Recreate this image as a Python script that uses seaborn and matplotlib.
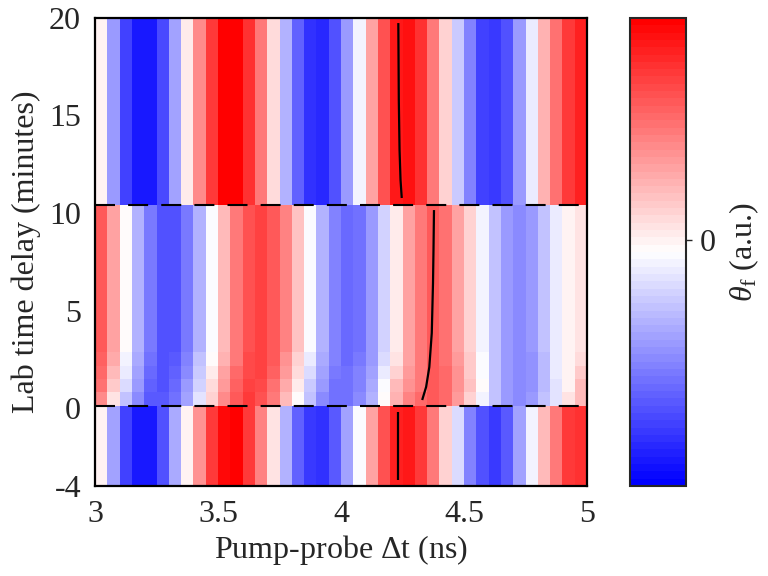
import numpy as np
import pandas as pd
import matplotlib
matplotlib.use("Agg")
import matplotlib.pyplot as plt
import seaborn as sns
from matplotlib.colors import LinearSegmentedColormap

# Pump-probe delay bins (ns): 40 bins from 3 to 5 ns
dt_start, dt_stop, n_dt = 3.0, 5.0, 40
# Lab-time scans (minutes): 35 scans from -4 to 20 min
lab_start, lab_stop, n_scans = -4.0, 20.0, 35

# Faraday rotation theta_f per delay bin (a.u.), one profile per lab-time block
theta_before = [0.0, -0.42, -0.78, -0.95, -0.93, -0.72, -0.38, 0.0, 0.38, 0.72,
                0.9, 0.92, 0.72, 0.42, 0.05, -0.35, -0.65, -0.82, -0.85, -0.7,
                -0.42, -0.08, 0.3, 0.62, 0.82, 0.85, 0.72, 0.45, 0.12, -0.2,
                -0.52, -0.72, -0.82, -0.7, -0.42, -0.1, 0.22, 0.48, 0.7, 0.75]
theta_during_scan1 = [0.4, 0.05, -0.28, -0.5, -0.7, -0.68, -0.6, -0.42, -0.15, 0.12,
                      0.4, 0.6, 0.7, 0.62, 0.45, 0.22, -0.05, -0.3, -0.5, -0.6,
                      -0.6, -0.5, -0.35, -0.05, 0.25, 0.42, 0.52, 0.6, 0.52, 0.35,
                      0.12, -0.1, -0.3, -0.45, -0.5, -0.45, -0.3, -0.15, 0.05, 0.22]
theta_during_scan2 = [0.5, 0.15, -0.18, -0.45, -0.65, -0.72, -0.62, -0.45, -0.22, 0.08,
                      0.35, 0.55, 0.68, 0.65, 0.5, 0.28, 0.02, -0.25, -0.45, -0.6,
                      -0.6, -0.52, -0.38, -0.08, 0.2, 0.38, 0.48, 0.6, 0.52, 0.38,
                      0.18, -0.05, -0.28, -0.45, -0.5, -0.48, -0.32, -0.15, 0.0, 0.2]
theta_during_scan3 = [0.53, 0.22, -0.14, -0.42, -0.62, -0.72, -0.67, -0.5, -0.26, 0.02,
                      0.3, 0.52, 0.66, 0.67, 0.55, 0.34, 0.08, -0.18, -0.42, -0.58,
                      -0.61, -0.55, -0.4, -0.13, 0.13, 0.35, 0.48, 0.6, 0.52, 0.36,
                      0.16, -0.06, -0.29, -0.45, -0.5, -0.47, -0.32, -0.14, 0.0, 0.15]
theta_during_scan4 = [0.56, 0.28, -0.1, -0.38, -0.6, -0.72, -0.7, -0.55, -0.3, -0.02,
                      0.26, 0.48, 0.64, 0.68, 0.58, 0.38, 0.13, -0.13, -0.38, -0.55,
                      -0.62, -0.58, -0.43, -0.18, 0.07, 0.32, 0.48, 0.59, 0.51, 0.34,
                      0.14, -0.08, -0.3, -0.45, -0.5, -0.46, -0.31, -0.13, 0.0, 0.1]
theta_during = [0.58, 0.32, -0.05, -0.35, -0.58, -0.72, -0.72, -0.58, -0.35, -0.06,
                0.22, 0.45, 0.62, 0.68, 0.6, 0.42, 0.18, -0.08, -0.35, -0.52,
                -0.62, -0.6, -0.45, -0.22, 0.03, 0.3, 0.48, 0.58, 0.5, 0.32,
                0.12, -0.1, -0.3, -0.45, -0.5, -0.45, -0.3, -0.12, 0.0, 0.07]
theta_after = [0.0, -0.45, -0.78, -0.95, -0.93, -0.75, -0.4, 0.02, 0.4, 0.72,
               0.92, 0.94, 0.75, 0.48, 0.08, -0.35, -0.65, -0.85, -0.88, -0.72,
               -0.45, -0.1, 0.32, 0.62, 0.85, 0.88, 0.75, 0.48, 0.12, -0.25,
               -0.55, -0.78, -0.82, -0.72, -0.45, -0.12, 0.25, 0.5, 0.72, 0.8]

# Number of scans in each block (earliest first)
n_before, n_during_rest, n_after = 6, 11, 14

# Tracked fringe maximum (ns vs minutes) in each block
track_before_ns = [4.233, 4.233]
track_before_min = [-3.69, -0.19]
track_during_ns = [4.330, 4.346, 4.359, 4.369, 4.374, 4.376, 4.378]
track_during_min = [0.41, 1.08, 2.10, 3.85, 6.41, 8.10, 10.15]
track_after_ns = [4.247, 4.242, 4.238, 4.235, 4.233]
track_after_min = [10.77, 11.69, 13.23, 15.79, 19.74]

x_ticks = [3, 3.5, 4, 4.5, 5]
x_ticklabels = ["3", "3.5", "4", "4.5", "5"]
y_ticks = [-4, 0, 5, 10, 15, 20]
y_ticklabels = ["-4", "0", "5", "10", "15", "20"]

# ---- assemble the scan-by-delay grid, earliest scan first ----
during_first = [theta_during_scan1, theta_during_scan2, theta_during_scan3, theta_during_scan4]
scans = ([theta_before] * n_before
         + during_first
         + [theta_during] * n_during_rest
         + [theta_after] * n_after)
grid = np.array(scans)
dt_centers = np.linspace(dt_start, dt_stop, n_dt + 1)[:-1] + (dt_stop - dt_start) / n_dt / 2
lab_centers = np.linspace(lab_start, lab_stop, n_scans + 1)[:-1] + (lab_stop - lab_start) / n_scans / 2
# heatmap rows run top-down, so latest scan first
df = pd.DataFrame(grid[::-1], index=np.round(lab_centers[::-1], 2), columns=np.round(dt_centers, 3))

dx = (dt_stop - dt_start) / n_dt
dy = (lab_stop - lab_start) / n_scans


def xc(t):
    return (np.asarray(t, dtype=float) - dt_start) / dx


def yc(m):
    return (lab_stop - np.asarray(m, dtype=float)) / dy


sns.set_theme(style="white")
plt.rcParams["font.family"] = ["Liberation Serif", "DejaVu Serif"]
plt.rcParams["mathtext.fontset"] = "custom"
plt.rcParams["mathtext.rm"] = "Liberation Serif"
plt.rcParams["mathtext.it"] = "Liberation Serif:italic"

fs = 23
fig = plt.figure(figsize=(7.68, 5.76), dpi=100)
ax = fig.add_axes([95 / 768, 1 - 486 / 576, 492 / 768, 468 / 576])
cax = fig.add_axes([630 / 768, 1 - 486 / 576, 56 / 768, 468 / 576])

cmap = LinearSegmentedColormap.from_list("bwr64", ["#0000ff", "#ffffff", "#ff0000"], N=64)
sns.heatmap(df, ax=ax, cmap=cmap, vmin=-1.05, vmax=0.95, cbar_ax=cax,
            xticklabels=False, yticklabels=False, linewidths=0, rasterized=True)

# block boundaries
boundary_rows = [n_after, n_after + n_during_rest + len(during_first)]
for r in boundary_rows:
    ax.axhline(r, color="black", lw=1.5, linestyle=(0, (9.6, 6.3)))

# tracked fringe positions
for tx, ty in [(track_before_ns, track_before_min),
               (track_during_ns, track_during_min),
               (track_after_ns, track_after_min)]:
    ax.plot(xc(tx), yc(ty), color="black", lw=1.6, solid_capstyle="butt")

ax.set_xlim(0, n_dt)
ax.set_ylim(n_scans, 0)
ax.set_xticks(xc(x_ticks))
ax.set_xticklabels(x_ticklabels, fontsize=fs)
ax.set_yticks(yc(y_ticks))
ax.set_yticklabels(y_ticklabels, fontsize=fs)
ax.tick_params(axis="both", length=0, colors="#262626")
ax.tick_params(axis="x", pad=10)
ax.tick_params(axis="y", pad=10)
ax.set_xlabel(r"Pump-probe $\Delta$t (ns)", fontsize=fs, color="#262626", labelpad=3)
ax.set_ylabel("Lab time delay (minutes)", fontsize=fs, color="#262626", labelpad=6)
for s in ax.spines.values():
    s.set_visible(True)
    s.set_color("black")
    s.set_linewidth(1.6)

cbar = ax.collections[0].colorbar
cbar.set_ticks([0])
cbar.set_ticklabels(["0"])
cbar.ax.tick_params(labelsize=fs, length=4, width=1, direction="out", colors="#262626", pad=6)
cbar.outline.set_edgecolor("#262626")
cbar.outline.set_linewidth(1.5)
cbar.set_label(r"$\theta_\mathrm{f}$ (a.u.)", fontsize=fs, color="#262626", labelpad=8)

fig.savefig("out.png", dpi=100)
